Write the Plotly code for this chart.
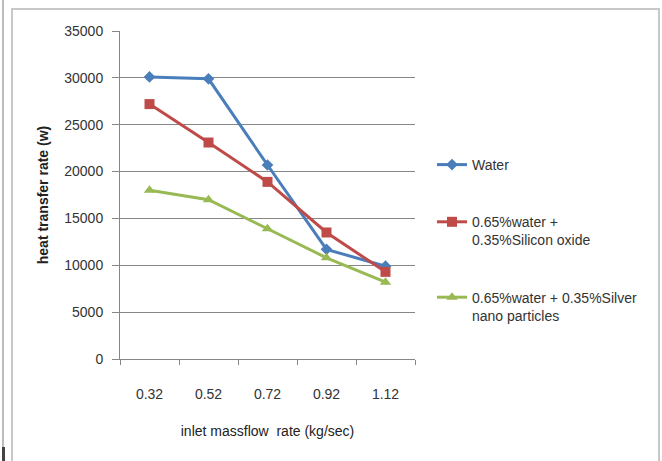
import plotly.graph_objects as go

categories = ["0.32", "0.52", "0.72", "0.92", "1.12"]
water = [30100, 29900, 20700, 11700, 9900]
silicon = [27200, 23100, 18900, 13500, 9300]
silver = [18000, 17000, 13900, 10800, 8200]

names = ["Water", "0.65%water +<br>0.35%Silicon oxide", "0.65%water + 0.35%Silver<br>nano particles"]
colors = ["#4A7EBB", "#BE4B48", "#98B954"]
symbols = ["diamond", "square", "triangle-up"]
sizes = [9, 10, 10]

W, H = 662, 461
L, R, T, B = 120, 247, 31, 102
pw, ph = W - L - R, H - T - B

def px(x):
    return (x - L) / pw

def py(y):
    return 1 - (y - T) / ph

fig = go.Figure()
for i, ys in enumerate([water, silicon, silver]):
    fig.add_trace(go.Scatter(
        x=categories, y=ys, mode="lines+markers", name=names[i],
        legendgroup=str(i),
        line=dict(color=colors[i], width=3),
        marker=dict(symbol=symbols[i], size=sizes[i], color=colors[i]),
    ))

font = "Liberation Sans"
fig.update_layout(
    width=W, height=H,
    margin=dict(l=L, r=R, t=T, b=B),
    paper_bgcolor="white", plot_bgcolor="white",
    font=dict(family=font, size=14, color="#333333"),
    showlegend=True,
    legend=dict(
        x=px(432), y=py(149), xanchor="left", yanchor="top",
        font=dict(family=font, size=14, color="#333333"),
        tracegroupgap=36, valign="top", itemwidth=30,
        bgcolor="rgba(0,0,0,0)",
    ),
    xaxis=dict(
        type="category", range=[-0.5, 4.5],
        showline=True, linecolor="#868686", linewidth=1,
        ticks="outside", tickson="boundaries", ticklen=5, tickcolor="#868686",
        showgrid=False, ticklabelstandoff=22,
        tickfont=dict(family=font, size=14, color="#333333"),
        title=dict(text="inlet massflow  rate (kg/sec)", standoff=25,
                   font=dict(family=font, size=14, color="#222222")),
    ),
    yaxis=dict(
        range=[0, 35000], dtick=5000, tickformat="d",
        showline=True, linecolor="#868686", linewidth=1,
        ticks="outside", ticklen=7, tickcolor="#868686",
        showgrid=True, gridcolor="#868686", gridwidth=1,
        zeroline=False, ticklabelstandoff=6,
        tickfont=dict(family=font, size=14, color="#333333"),
        title=dict(text="<b>heat transfer rate (w)</b>", standoff=12,
                   font=dict(family=font, size=14, color="#222222")),
    ),
    shapes=[
        dict(type="rect", xref="paper", yref="paper",
             x0=px(12), x1=px(659), y0=py(470), y1=py(9),
             line=dict(color="#C8C8C8", width=2), fillcolor="rgba(0,0,0,0)", layer="below"),
        dict(type="line", xref="paper", yref="paper",
             x0=px(3), x1=px(3), y0=py(0), y1=py(461),
             line=dict(color="#BBBBBB", width=2)),
        dict(type="line", xref="paper", yref="paper",
             x0=px(3.5), x1=px(3.5), y0=py(447), y1=py(461),
             line=dict(color="#444444", width=3)),
    ],
)

fig.write_html("out.html")
